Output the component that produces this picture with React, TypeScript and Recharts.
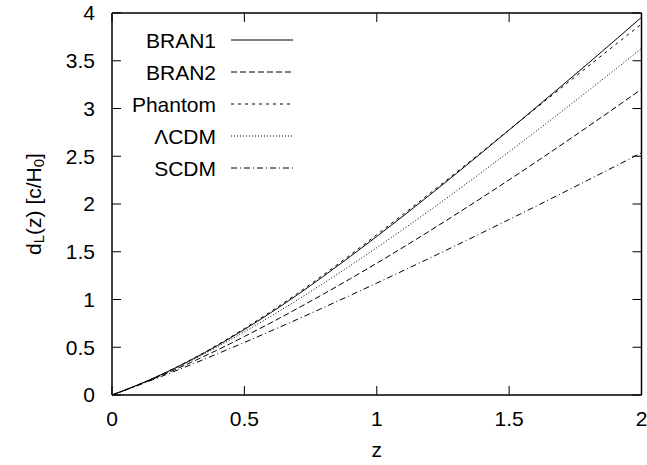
import React from 'react';
import { LineChart, Line, XAxis, YAxis, Customized } from 'recharts';

const zValues = [0, 0.1, 0.2, 0.3, 0.4, 0.5, 0.6, 0.7, 0.8, 0.9, 1.0, 1.2, 1.4, 1.6, 1.8, 2.0];
const bran1 = [0, 0.1085, 0.231, 0.369, 0.521, 0.686, 0.862, 1.049, 1.246, 1.45, 1.66, 2.094, 2.545, 3.007, 3.476, 3.955];
const bran2 = [0, 0.1052, 0.2199, 0.3433, 0.4741, 0.6127, 0.7565, 0.9056, 1.0596, 1.2176, 1.3796, 1.7184, 2.0716, 2.4374, 2.8147, 3.2026];
const phantom = [0, 0.109, 0.232, 0.372, 0.527, 0.696, 0.874, 1.063, 1.262, 1.467, 1.678, 2.11, 2.552, 3.0, 3.445, 3.885];
const lcdm = [0, 0.1075, 0.2288, 0.3626, 0.5072, 0.6615, 0.8243, 0.9947, 1.1718, 1.3547, 1.543, 1.9334, 2.3395, 2.7586, 3.1889, 3.6288];
const scdm = [0, 0.1024, 0.2091, 0.3196, 0.4336, 0.5505, 0.6702, 0.7923, 0.9167, 1.0432, 1.1716, 1.4335, 1.7016, 1.9751, 2.2534, 2.5359];

const xTicks = [0, 0.5, 1, 1.5, 2];
const yTicks = [0, 0.5, 1, 1.5, 2, 2.5, 3, 3.5, 4];

const seriesNames = ['BRAN1', 'BRAN2', 'Phantom', '\u039BCDM', 'SCDM'];
const seriesKeys = ['bran1', 'bran2', 'phantom', 'lcdm', 'scdm'];
const seriesDash = ['', '6 3', '3 4', '1 2', '6 3 1 3'];

const data = zValues.map((z, i) => ({
  z,
  bran1: bran1[i],
  bran2: bran2[i],
  phantom: phantom[i],
  lcdm: lcdm[i],
  scdm: scdm[i],
}));

const FONT = '"Liberation Sans", Arial, Helvetica, sans-serif';
const FS = 21;
const TICK_LEN = 9;
const X_MARGIN = 16;
const Y_MARGIN = 17;

const BottomTick = (props: any) => {
  const { x, y, payload } = props;
  const ay = y - X_MARGIN;
  return (
    <g>
      <line x1={x} x2={x} y1={ay} y2={ay - TICK_LEN} stroke="#000" strokeWidth={1} />
      <text x={x} y={y} dy="0.71em" textAnchor="middle" fontSize={FS} fontFamily={FONT} fill="#000">
        {payload.value}
      </text>
    </g>
  );
};

const LeftTick = (props: any) => {
  const { x, y, payload } = props;
  const ax = x + Y_MARGIN;
  return (
    <g>
      <line x1={ax} x2={ax + TICK_LEN} y1={y} y2={y} stroke="#000" strokeWidth={1} />
      <text x={x} y={y} dy="0.355em" textAnchor="end" fontSize={FS} fontFamily={FONT} fill="#000">
        {payload.value}
      </text>
    </g>
  );
};

const TopTick = (props: any) => {
  const { x, y } = props;
  return <line x1={x} x2={x} y1={y} y2={y + TICK_LEN} stroke="#000" strokeWidth={1} />;
};

const RightTick = (props: any) => {
  const { x, y } = props;
  return <line x1={x} x2={x - TICK_LEN} y1={y} y2={y} stroke="#000" strokeWidth={1} />;
};

const XLabel = (props: any) => {
  const vb = props.viewBox || {};
  return (
    <text x={vb.x + vb.width / 2} y={vb.y + 62} textAnchor="middle" fontSize={FS} fontFamily={FONT} fill="#000">
      z
    </text>
  );
};

const YLabel = (props: any) => {
  const vb = props.viewBox || {};
  const cx = vb.x + 33;
  const cy = vb.y + vb.height / 2;
  return (
    <text
      x={cx}
      y={cy}
      textAnchor="middle"
      dominantBaseline="central"
      fontSize={FS}
      fontFamily={FONT}
      fill="#000"
      transform={`rotate(-90, ${cx}, ${cy})`}
    >
      d<tspan fontSize={15} dy={5}>L</tspan>
      <tspan dy={-5}>(z) [c/H</tspan>
      <tspan fontSize={15} dy={5}>0</tspan>
      <tspan dy={-5}>]</tspan>
    </text>
  );
};

const LegendBox = () => (
  <g>
    {seriesNames.map((name, i) => {
      const cy = 40 + i * 32;
      return (
        <g key={name}>
          <text x={216} y={cy} textAnchor="end" dominantBaseline="central" fontSize={FS} fontFamily={FONT} fill="#000">
            {name}
          </text>
          <line x1={231} x2={293} y1={cy} y2={cy} stroke="#000" strokeWidth={1} strokeDasharray={seriesDash[i] || undefined} />
        </g>
      );
    })}
  </g>
);

export default function App() {
  return (
    <div style={{ position: 'absolute', left: 0, top: 0, width: 647, height: 465, background: '#fff' }}>
      <LineChart width={647} height={465} data={data} margin={{ top: 12, right: 0, bottom: 0, left: 0 }}>
        <XAxis
          xAxisId="b"
          dataKey="z"
          type="number"
          domain={[0, 2]}
          ticks={xTicks}
          interval={0}
          tickLine={false}
          tickSize={0}
          tickMargin={X_MARGIN}
          height={70}
          axisLine={{ stroke: '#000', strokeWidth: 1.5 }}
          tick={BottomTick}
          label={<XLabel />}
        />
        <XAxis
          xAxisId="t"
          orientation="top"
          dataKey="z"
          type="number"
          domain={[0, 2]}
          ticks={xTicks}
          interval={0}
          height={1}
          tickLine={false}
          tickSize={0}
          tickMargin={0}
          axisLine={{ stroke: '#000', strokeWidth: 1.5 }}
          tick={TopTick}
        />
        <YAxis
          yAxisId="l"
          type="number"
          domain={[0, 4]}
          ticks={yTicks}
          interval={0}
          width={112}
          tickLine={false}
          tickSize={0}
          tickMargin={Y_MARGIN}
          axisLine={{ stroke: '#000', strokeWidth: 1.5 }}
          tick={LeftTick}
          label={<YLabel />}
        />
        <YAxis
          yAxisId="r"
          orientation="right"
          type="number"
          domain={[0, 4]}
          ticks={yTicks}
          interval={0}
          width={5.5}
          tickLine={false}
          tickSize={0}
          tickMargin={0}
          axisLine={{ stroke: '#000', strokeWidth: 1.5 }}
          tick={RightTick}
        />
        <Line
          xAxisId="t"
          yAxisId="r"
          dataKey="bran1"
          stroke="none"
          dot={false}
          activeDot={false}
          legendType="none"
          isAnimationActive={false}
        />
        {seriesKeys.map((k, i) => (
          <Line
            key={k}
            xAxisId="b"
            yAxisId="l"
            type="monotone"
            dataKey={k}
            stroke="#000"
            strokeWidth={1}
            strokeDasharray={seriesDash[i] || undefined}
            dot={false}
            isAnimationActive={false}
          />
        ))}
        <Customized component={LegendBox} />
      </LineChart>
    </div>
  );
}
